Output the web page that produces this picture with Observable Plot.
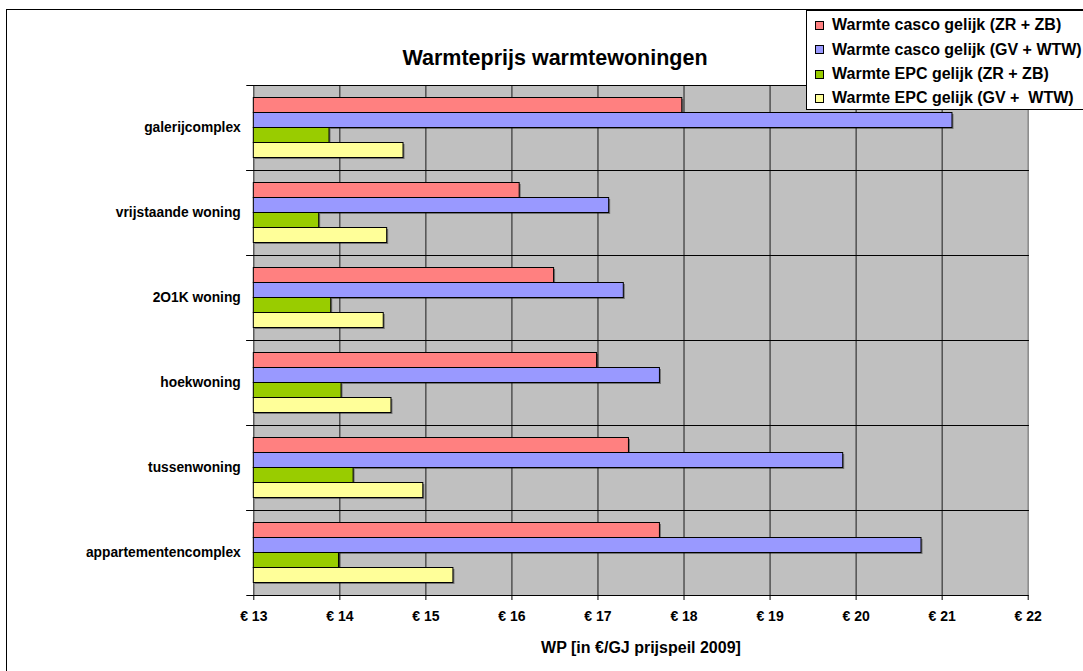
<!DOCTYPE html>
<html><head><meta charset="utf-8">
<script src="https://cdn.jsdelivr.net/npm/d3@7"></script>
<script src="https://cdn.jsdelivr.net/npm/@observablehq/plot@0.6"></script>
<style>
body{margin:0;background:#fff;font-family:"Liberation Sans",Arial,sans-serif;}
#wrap{position:relative;width:1083px;height:671px;overflow:hidden;background:#fff;}
#chart{position:absolute;left:0;top:0;}
#border{position:absolute;left:6px;top:9px;width:1200px;height:800px;border-left:1.5px solid #000;border-top:1.5px solid #000;}
#title{position:absolute;left:555px;top:47px;transform:translateX(-50%);font-weight:bold;font-size:21.5px;line-height:22px;white-space:nowrap;color:#000;}
#legend{position:absolute;left:806px;top:10px;width:320px;height:98px;border:1px solid #000;background:#fff;}
.row{position:absolute;left:8px;display:flex;align-items:center;font-weight:bold;font-size:16px;white-space:pre;color:#000;}
.sw{width:7px;height:7px;border:1px solid #000;margin-right:8px;flex:none;}
</style></head><body><div id="wrap"><div id="border"></div><div id="chart"></div><div id="title"></div><div id="legend"></div></div>
<script>
const chartTitle = "Warmteprijs warmtewoningen";
const xLabel = "WP [in €/GJ prijspeil 2009]";
const categories = ["galerijcomplex", "vrijstaande woning", "2O1K woning", "hoekwoning", "tussenwoning", "appartementencomplex"];
const seriesNames = ["Warmte casco gelijk (ZR + ZB)", "Warmte casco gelijk (GV + WTW)", "Warmte EPC gelijk (ZR + ZB)", "Warmte EPC gelijk (GV +  WTW)"];
const seriesColors = ["#FF8080", "#9999FF", "#99CC00", "#FFFF99"];
const cascoZRZB = [17.98, 16.09, 16.49, 16.99, 17.36, 17.72];
const cascoGVWTW = [21.12, 17.13, 17.30, 17.72, 19.85, 20.76];
const epcZRZB = [13.88, 13.76, 13.90, 14.02, 14.16, 13.99];
const epcGVWTW = [14.74, 14.55, 14.51, 14.60, 14.97, 15.32];
const xTicks = [13, 14, 15, 16, 17, 18, 19, 20, 21, 22];

const seriesValues = [cascoZRZB, cascoGVWTW, epcZRZB, epcGVWTW];
const data = [];
categories.forEach((c, i) => seriesNames.forEach((s, j) => data.push({category: c, series: s, value: seriesValues[j][i]})));
const xMin = xTicks[0], xMax = xTicks[xTicks.length - 1];

document.getElementById("title").textContent = chartTitle;
const leg = document.getElementById("legend");
const rowTops = [14, 38.5, 63, 87];
seriesNames.forEach((s, j) => {
  const r = document.createElement("div");
  r.className = "row";
  r.style.top = (rowTops[j] - 10) + "px";
  r.style.height = "20px";
  const sw = document.createElement("div");
  sw.className = "sw";
  sw.style.background = seriesColors[j];
  const t = document.createElement("span");
  t.textContent = s;
  r.appendChild(sw); r.appendChild(t);
  leg.appendChild(r);
});

const W = 1083, H = 671, mL = 253.3, mR = 1083 - 1027.7, mT = 84.5, mB = 671 - 596;
const plot = Plot.plot({
  width: W, height: H,
  marginLeft: mL, marginRight: mR, marginTop: mT, marginBottom: mB,
  style: {fontFamily: "'Liberation Sans', Arial, sans-serif", background: "transparent", color: "#000", overflow: "visible"},
  x: {domain: [xMin, xMax], axis: null},
  y: {domain: seriesNames, paddingInner: 0, paddingOuter: 0.79, axis: null},
  fy: {domain: categories, padding: 0, axis: null, label: null},
  color: {domain: seriesNames, range: seriesColors},
  marks: [
    Plot.frame({fill: "#C0C0C0"}),
    Plot.gridX(xTicks.slice(0, -1), {stroke: "#1a1a1a", strokeOpacity: 1}),
    Plot.ruleX([xMax], {stroke: "#888", strokeWidth: 1.5}),
    Plot.frame({anchor: "top", stroke: "#000", insetLeft: -7}),
    Plot.frame({anchor: "bottom", stroke: "#000", insetLeft: -7}),
    Plot.barX(data, {fy: "category", y: "series", x1: xMin, x2: "value", fill: "#000", fillOpacity: 0.4, dx: 1.5, dy: 1.5}),
    Plot.barX(data, {fy: "category", y: "series", x1: xMin, x2: "value", fill: "series", stroke: "#000", strokeWidth: 1}),
    Plot.axisFy({anchor: "left", tickSize: 0, tickPadding: 13, label: null, fontSize: 13.8, fontWeight: "bold"}),
    Plot.axisX(xTicks, {anchor: "bottom", tickSize: 5, tickPadding: 10.5, tickFormat: d => "€ " + d, fontSize: 14, fontWeight: "bold", label: null}),
    Plot.axisX({anchor: "bottom", ticks: [], tickSize: 0, label: xLabel, labelAnchor: "center", labelArrow: "none", labelOffset: 57, fontSize: 16, fontWeight: "bold"})
  ]
});
document.getElementById("chart").appendChild(plot);
</script></body></html>
